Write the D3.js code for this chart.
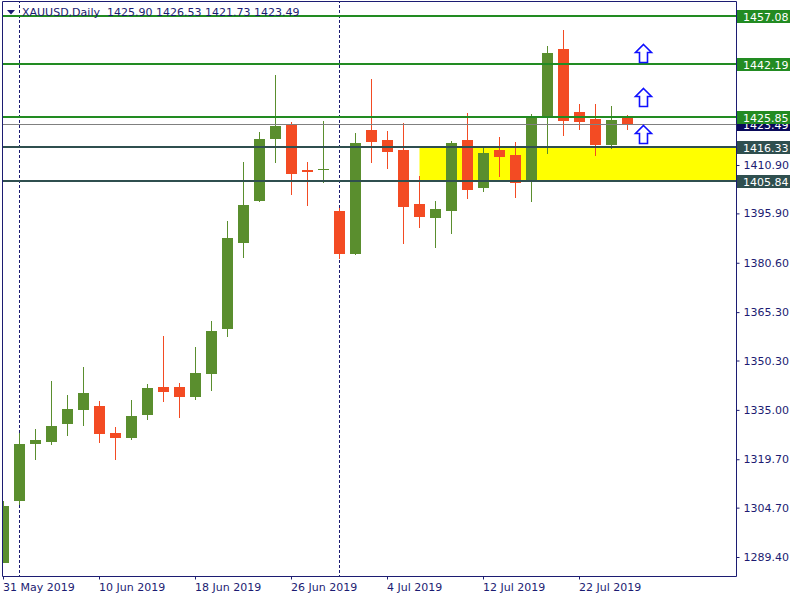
<!DOCTYPE html>
<html><head><meta charset="utf-8">
<script src="https://cdn.jsdelivr.net/npm/d3@7"></script>
<style>body{margin:0;background:#fff}svg{display:block}text{font-family:"DejaVu Sans",sans-serif;font-size:11px}</style>
</head><body>
<script>
const symbolTitle = "XAUUSD,Daily  1425.90 1426.53 1421.73 1423.49";
const dates = ["2019-05-31","2019-06-03","2019-06-04","2019-06-05","2019-06-06","2019-06-07","2019-06-10","2019-06-11","2019-06-12","2019-06-13","2019-06-14","2019-06-17","2019-06-18","2019-06-19","2019-06-20","2019-06-21","2019-06-24","2019-06-25","2019-06-26","2019-06-27","2019-06-28","2019-07-01","2019-07-02","2019-07-03","2019-07-04","2019-07-05","2019-07-08","2019-07-09","2019-07-10","2019-07-11","2019-07-12","2019-07-15","2019-07-16","2019-07-17","2019-07-18","2019-07-19","2019-07-22","2019-07-23","2019-07-24","2019-07-25"];
const open = [1287.64,1306.85,1324.52,1325.14,1330.72,1335.06,1336.20,1327.83,1326.38,1333.51,1342.09,1342.09,1339.08,1346.21,1359.98,1386.82,1399.83,1419.05,1423.61,1409.35,1409.47,1396.64,1383.41,1421.75,1418.65,1415.55,1398.81,1394.57,1396.73,1418.65,1403.86,1415.55,1414.00,1405.72,1426.18,1446.85,1427.33,1425.16,1417.19,1425.90];
const high = [1306.76,1327.83,1329.08,1343.95,1339.61,1348.29,1337.75,1329.69,1338.06,1343.02,1357.90,1343.33,1354.49,1362.55,1393.54,1411.83,1421.13,1438.79,1424.23,1411.83,1424.54,1397.57,1420.82,1437.55,1421.44,1423.92,1407.49,1399.74,1418.34,1427.02,1416.79,1419.58,1418.03,1426.71,1447.78,1452.74,1429.81,1429.81,1429.19,1426.53];
const low = [1287.64,1305.61,1319.56,1324.21,1327.00,1330.10,1324.83,1319.56,1325.76,1331.96,1337.54,1332.58,1338.16,1340.95,1357.50,1382.17,1399.43,1411.61,1401.69,1398.28,1405.41,1381.76,1383.10,1411.61,1409.75,1386.51,1391.47,1385.27,1389.61,1400.45,1402.62,1407.27,1400.76,1399.52,1414.40,1419.98,1421.84,1413.78,1415.95,1421.73];
const close = [1305.21,1324.43,1325.67,1330.00,1335.27,1340.23,1327.62,1326.38,1333.10,1341.78,1340.64,1339.08,1346.43,1359.45,1388.27,1398.50,1418.96,1423.08,1408.20,1408.82,1409.66,1383.41,1417.72,1418.12,1415.02,1397.97,1394.87,1397.26,1417.72,1403.24,1414.62,1413.47,1405.41,1426.09,1445.61,1424.63,1424.32,1417.19,1424.85,1423.49];
const yTickValues = [1410.90,1395.90,1380.60,1365.30,1350.30,1335.00,1319.70,1304.70,1289.40];
const xTickDates = ["2019-05-31","2019-06-10","2019-06-18","2019-06-26","2019-07-04","2019-07-12","2019-07-22"];
const xTickLabels = ["31 May 2019","10 Jun 2019","18 Jun 2019","26 Jun 2019","4 Jul 2019","12 Jul 2019","22 Jul 2019"];
const separatorDates = ["2019-06-03","2019-07-01"];
const greenLevels = [1457.08,1442.19,1425.85];
const zoneLevels = [1416.33,1405.84];
const zoneStartDate = "2019-07-08";
const bidPrice = 1423.49;
const arrowPrices = [1448.40,1434.86,1423.39];
const arrowBarOffset = 1;

const W = 800, H = 600;
const L = 2.5, R = 736.5, T = 1.5, B = 576.5;
const bull = "#5a8e2e", bear = "#f34b23", navy = "#1c1c72", lvlGreen = "#228b22", slate = "#2f4f4f";

const svg = d3.select("body").append("svg").attr("width", W).attr("height", H);
const x = d3.scaleLinear().domain([0, 1]).range([3.5, 19.5]);
const y = d3.scaleLinear().domain([1289.40, 1457.08]).range([557, 16]);
const idx = d => dates.indexOf(d);

svg.append("defs").append("clipPath").attr("id","plot").append("rect")
  .attr("x", 3).attr("y", 2).attr("width", R - 3).attr("height", B - 2);

const plot = svg.append("g").attr("clip-path","url(#plot)");

// zone rectangle (background)
plot.append("rect").attr("x", x(idx(zoneStartDate))).attr("y", y(zoneLevels[0]))
  .attr("width", R - x(idx(zoneStartDate))).attr("height", y(zoneLevels[1]) - y(zoneLevels[0]))
  .attr("fill", "#ffff00");

// separators
plot.selectAll("line.sep").data(separatorDates).join("line")
  .attr("x1", d => Math.floor(x(idx(d))) + 0.5).attr("x2", d => Math.floor(x(idx(d))) + 0.5)
  .attr("y1", 0).attr("y2", B).attr("stroke", navy).attr("stroke-dasharray", "3,2");

// candles
const bars = dates.map((d, i) => ({i, o: open[i], h: high[i], l: low[i], c: close[i]}));
const cg = plot.append("g");
cg.selectAll("rect.wick").data(bars).join("rect")
  .attr("x", d => Math.floor(x(d.i))).attr("width", 1)
  .attr("y", d => Math.round(y(d.h))).attr("height", d => Math.max(1, Math.round(y(d.l)) - Math.round(y(d.h))))
  .attr("fill", d => d.c >= d.o ? bull : bear);
cg.selectAll("rect.body").data(bars).join("rect")
  .attr("x", d => Math.floor(x(d.i)) - 5).attr("width", 11)
  .attr("y", d => Math.round(y(Math.max(d.o, d.c))))
  .attr("height", d => Math.max(1, Math.round(y(Math.min(d.o, d.c))) - Math.round(y(Math.max(d.o, d.c)))))
  .attr("fill", d => d.c >= d.o ? bull : bear);

// level lines
plot.selectAll("line.g").data(greenLevels).join("line")
  .attr("x1", 3).attr("x2", R).attr("y1", d => Math.round(y(d))).attr("y2", d => Math.round(y(d)))
  .attr("stroke", lvlGreen).attr("stroke-width", 2);
plot.append("line").attr("x1", 3).attr("x2", R)
  .attr("y1", Math.round(y(bidPrice)) + 0.5).attr("y2", Math.round(y(bidPrice)) + 0.5)
  .attr("stroke", "#808080").attr("stroke-width", 1);
plot.selectAll("line.z").data(zoneLevels).join("line")
  .attr("x1", 3).attr("x2", R).attr("y1", d => Math.round(y(d))).attr("y2", d => Math.round(y(d)))
  .attr("stroke", slate).attr("stroke-width", 2);

// arrows
const arrowPath = "M0,0 L8,8 L4,8 L4,18 L-4,18 L-4,8 L-8,8 Z";
plot.selectAll("path.arrow").data(arrowPrices).join("path")
  .attr("d", arrowPath)
  .attr("transform", d => `translate(${x(dates.length - 1 + arrowBarOffset)},${Math.round(y(d)) + 0.5})`)
  .attr("fill", "#ffffff").attr("stroke", "#1010ff").attr("stroke-width", 1.6).attr("stroke-linejoin", "miter");

// frame
svg.append("path").attr("d", `M${L},${T} L${L},${B} L${R},${B} L${R},${T} Z`)
  .attr("fill", "none").attr("stroke", navy).attr("stroke-width", 1);

// y axis
const yAxis = d3.axisRight(y).tickValues(yTickValues).tickSize(3).tickPadding(4).tickFormat(d3.format(".2f"));
const ya = svg.append("g").attr("transform", `translate(${R},0)`).call(yAxis);
ya.select(".domain").remove();
ya.selectAll("line").attr("stroke", navy);
ya.selectAll("text").attr("fill", navy).attr("x", 7).style("font-size","11px").style("font-family","DejaVu Sans");

// x axis
const xa = svg.append("g").attr("transform", `translate(0,${B})`)
  .call(d3.axisBottom(x).tickValues(xTickDates.map(idx)).tickSize(3).tickFormat((d, i) => xTickLabels[i]));
xa.select(".domain").remove();
xa.selectAll("line").attr("stroke", navy).attr("transform", "translate(-0.5,0)");
xa.selectAll("text").attr("fill", navy).attr("text-anchor", "start").attr("x", -1).attr("y", 7).attr("dy", "0.71em")
  .style("font-size","11px").style("font-family","DejaVu Sans");

// price labels on right
function priceLabel(p, bg) {
  const yy = Math.round(y(p));
  const g = svg.append("g");
  g.append("rect").attr("x", 737).attr("y", yy - 6).attr("width", 53).attr("height", 13).attr("fill", bg);
  g.append("text").attr("x", 743).attr("y", yy + 4.5).attr("fill", "#ffffff").text(d3.format(".2f")(p));
}
priceLabel(bidPrice, "#0a0a5a");
greenLevels.forEach(p => priceLabel(p, lvlGreen));
zoneLevels.forEach(p => priceLabel(p, slate));

// title
svg.append("path").attr("d", "M7,10 L15,10 L11,14.5 Z").attr("fill", navy);
svg.append("text").attr("x", 22).attr("y", 16).attr("fill", navy).style("white-space","pre").text(symbolTitle);
</script>
</body></html>
